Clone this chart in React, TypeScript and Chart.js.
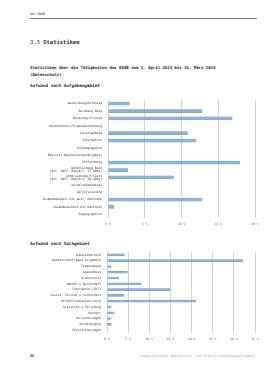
import React, { useEffect, useRef } from "react";
import { Chart, registerables } from "chart.js";

Chart.register(...registerables);

const taskCategories: (string | string[])[] = [
  "Ausbildung/Referate",
  "Beratung Bund",
  "Beratung Private",
  "Datenschutz-Folgenabschätzung",
  "Gesetzgebung",
  "Information",
  "Prüfungsgesuch",
  "Register Bearbeitungstätigkeit",
  "Schlichtung",
  ["Untersuchung Bund", "(Art. 49ff. DSG/Art. 27 aDSG)"],
  ["Untersuchung Private", "(Art. 49ff. DSG/Art. 29 aDSG)"],
  "Verhaltenskodizes",
  "Zertifizierung",
  "Zusammenarbeit mit ausl. Behörden",
  "Zusammenarbeit mit Kantonen",
  "Zugangsgesuch",
];
const taskValues = [2.9, 12.8, 16.9, 0, 10.8, 11.9, 0, 0, 17.9, 2.7, 8.9, 0, 0, 12.8, 0.8, 0];
const taskTicks = [0, 5, 10, 15, 20];

const subjectCategories = [
  "Arbeitsbereich",
  "Datenschutzfragen allgemein",
  "Finanzwesen",
  "Gesundheit",
  "Grundrechte",
  "Handel & Wirtschaft",
  "Informatik (IKT)",
  "Justiz, Polizei & Sicherheit",
  "Öffentlichkeitsprinzip",
  "Statistik & Forschung",
  "Verkehr",
  "Versicherungen",
  "Verteidigung",
  "Zertifizierungen",
];
const subjectValues = [4.1, 32.1, 1.0, 4.8, 2.8, 8.1, 14.9, 4.0, 21.0, 1.0, 1.7, 0.8, 1.0, 0];
const subjectTicks = [0, 5, 10, 15, 20, 25, 30, 35];

const FONT = "'DejaVu Sans Mono', monospace";
const BAR_FILL = "#8fb2d7";
const BAR_EDGE = "#6f98c6";

function BarChart(props: {
  labels: (string | string[])[];
  values: number[];
  ticks: number[];
  barThickness: number;
  yWidth: number;
  style: React.CSSProperties;
}) {
  const ref = useRef<HTMLCanvasElement | null>(null);
  useEffect(() => {
    if (!ref.current) return;
    const tmax = props.ticks[props.ticks.length - 1];
    const chart = new Chart(ref.current, {
      type: "bar",
      data: {
        labels: props.labels,
        datasets: [
          {
            data: props.values,
            backgroundColor: BAR_FILL,
            borderColor: BAR_EDGE,
            borderWidth: 0.5,
            barThickness: props.barThickness,
          },
        ],
      },
      options: {
        indexAxis: "y",
        animation: false,
        responsive: false,
        maintainAspectRatio: false,
        layout: { padding: { top: 4, right: 10, bottom: 0, left: 0 } },
        plugins: { legend: { display: false }, tooltip: { enabled: false } },
        scales: {
          x: {
            min: 0,
            max: tmax,
            afterBuildTicks: (s: any) => {
              s.ticks = props.ticks.map((v) => ({ value: v }));
            },
            afterFit: (s: any) => {
              s.paddingLeft = 0;
              s.paddingRight = 0;
              s.height = 12;
            },
            grid: { color: "#d2d2d2", lineWidth: 1, drawTicks: false },
            border: { display: false },
            ticks: {
              padding: 4,
              color: "#555",
              font: { family: FONT, size: 3 },
              callback: (v: any) => v + " %",
            },
          },
          y: {
            afterFit: (s: any) => {
              s.width = props.yWidth;
              s.paddingTop = 0;
              s.paddingBottom = 0;
            },
            grid: { display: false, drawTicks: false },
            border: { display: false },
            ticks: {
              padding: 6,
              color: "#333",
              autoSkip: false,
              font: { family: FONT, size: 3, lineHeight: 1.0 },
            },
          },
        },
      },
    });
    return () => chart.destroy();
  }, []);
  const st = props.style as any;
  return (
    <canvas
      ref={ref}
      width={st.width}
      height={st.height}
      style={{ position: "absolute", ...props.style }}
    />
  );
}

const txt = (
  top: number,
  left: number,
  size: number,
  content: React.ReactNode,
  extra: React.CSSProperties = {}
) => (
  <div
    style={{
      position: "absolute",
      top: top - size / 2,
      left,
      fontSize: size,
      lineHeight: size + "px",
      whiteSpace: "nowrap",
      fontFamily: FONT,
      color: "#222",
      ...extra,
    }}
  >
    {content}
  </div>
);

export default function App() {
  return (
    <div
      style={{
        position: "absolute",
        top: 0,
        left: 0,
        width: 280,
        height: 373,
        overflow: "hidden",
        background: "#fff",
      }}
    >
      {txt(15, 30, 3.1, "Der EDÖB")}
      <div
        style={{
          position: "absolute",
          top: 18,
          left: 30,
          width: 227,
          height: 0,
          borderTop: "1px solid #777",
        }}
      />
      {txt(43, 30, 5.5, (
        <span>
          3.3 <b>Statistiken</b>
        </span>
      ))}
      {txt(68, 30, 4, "Statistiken über die Tätigkeiten des EDÖB vom 1. April 2023 bis 31. März 2024", { fontWeight: "bold" })}
      {txt(75, 30, 4, "(Datenschutz)", { fontWeight: "bold" })}
      {txt(86, 30, 4.3, "Aufwand nach Aufgabengebiet", { fontWeight: "bold" })}
      <BarChart
        labels={taskCategories}
        values={taskValues}
        ticks={taskTicks}
        barThickness={3}
        yWidth={88}
        style={{ left: 20, top: 96, width: 245, height: 134 }}
      />
      {txt(244, 30, 4.3, "Aufwand nach Sachgebiet", { fontWeight: "bold" })}
      <BarChart
        labels={subjectCategories}
        values={subjectValues}
        ticks={subjectTicks}
        barThickness={2}
        yWidth={87}
        style={{ left: 20, top: 248, width: 245, height: 97 }}
      />
      {txt(357, 30, 3.5, "88", { fontWeight: "bold" })}
      {txt(357, 140, 3.2, "Eidgenössischer Datenschutz- und Öffentlichkeitsbeauftragter", { color: "#5fb3c6" })}
    </div>
  );
}
